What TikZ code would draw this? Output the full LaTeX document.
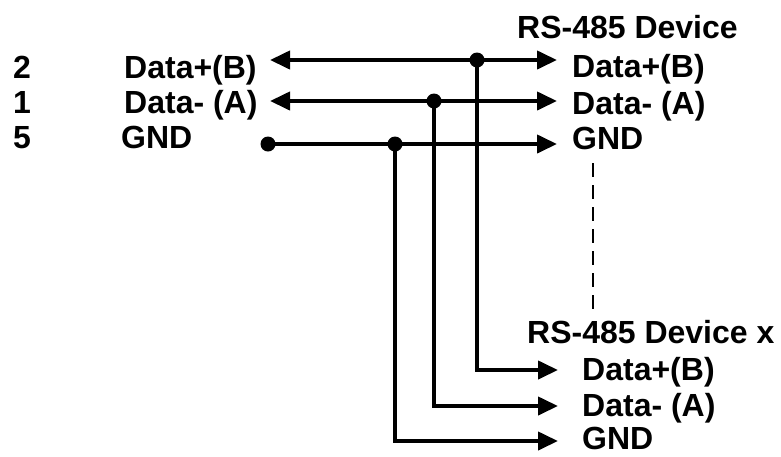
\documentclass[tikz,border=0pt]{standalone}
\usepackage{fontspec}
\setmainfont{Liberation Sans}
\usetikzlibrary{arrows.meta}
\begin{document}
\begin{tikzpicture}[x=1pt,y=-1pt,
  lbl/.style={anchor=base west, inner sep=0pt, font=\fontsize{32}{38}\selectfont\bfseries},
  wire/.style={line width=4pt},
  tip/.tip={Triangle[length=20pt,width=18pt]},
  arr/.style={wire, -tip},
  darr/.style={wire, tip-tip},
  jdot/.style={circle, fill=black, inner sep=0pt, minimum size=15pt},
  dashline/.style={line width=1.8pt, dash pattern=on 14pt off 8pt}]
\useasboundingbox (0,0) rectangle (781,456);
% labels
\node[lbl] (n2) at (13,78) {2};
\node[lbl] (n1) at (13,113) {1};
\node[lbl] (n5) at (13,148) {5};
\node[lbl] (lB) at (124,78) {Data+(B)};
\node[lbl] (lA) at (124,113) {Data- (A)};
\node[lbl] (lG) at (121,148) {GND};
\node[lbl] (dev) at (517,38) {RS-485 Device};
\node[lbl] (rB) at (572,77) {Data+(B)};
\node[lbl] (rA) at (572,114) {Data- (A)};
\node[lbl] (rG) at (572,149) {GND};
\node[lbl] (devx) at (527,343) {RS-485 Device x};
\node[lbl] (bB) at (582,380) {Data+(B)};
\node[lbl] (bA) at (582,416) {Data- (A)};
\node[lbl] (bG) at (582,449) {GND};
% coordinates
\coordinate (LB) at (270,60);
\coordinate (LA) at (270,101);
\coordinate (RB) at (557,60);
\coordinate (RA) at (557,101);
\coordinate (RG) at (557,144);
\coordinate (cB) at (477,370);
\coordinate (cA) at (434,406);
\coordinate (cG) at (395,441);
\coordinate (BB) at (558,370);
\coordinate (BA) at (558,406);
\coordinate (BG) at (558,441);
\coordinate (d1) at (593,163);
\coordinate (d2) at (593,310);
% wires
\draw[darr] (LB) -- (RB);
\draw[darr] (LA) -- (RA);
\node[jdot] (gdot) at (268,144) {};
\draw[arr] (gdot.center) -- (RG);
\node[jdot] (jB) at (477,60) {};
\node[jdot] (jA) at (434,101) {};
\node[jdot] (jG) at (395,144) {};
\draw[arr] (jB.center) -- (cB) -- (BB);
\draw[arr] (jA.center) -- (cA) -- (BA);
\draw[arr] (jG.center) -- (cG) -- (BG);
\draw[dashline] (d1) -- (d2);
\end{tikzpicture}
\end{document}
